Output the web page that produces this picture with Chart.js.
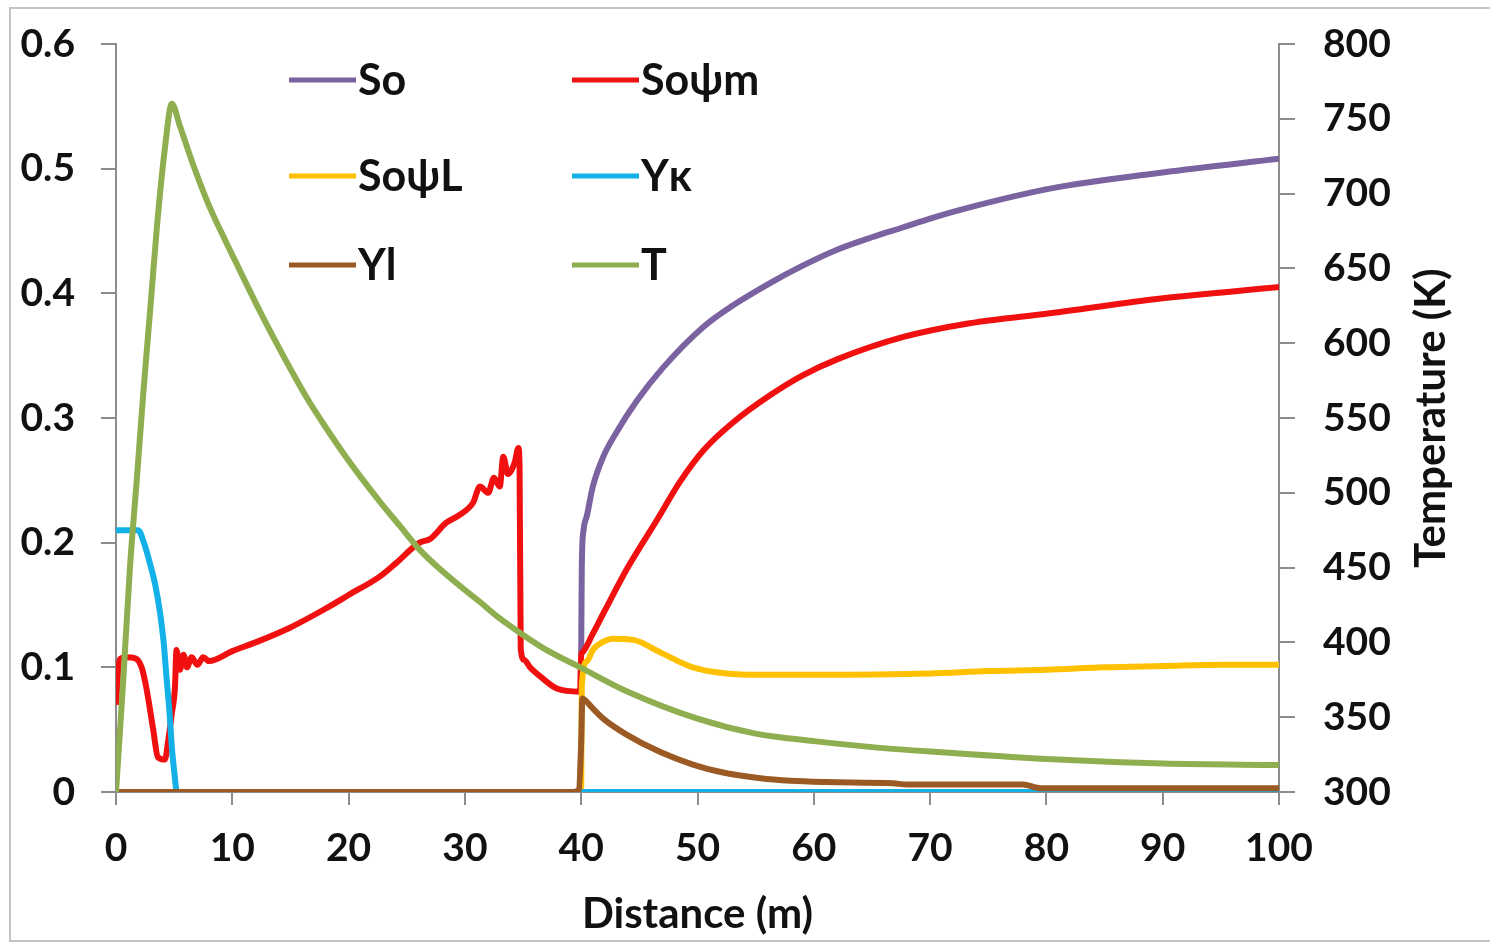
<!DOCTYPE html>
<html>
<head>
<meta charset="utf-8">
<script src="https://cdn.jsdelivr.net/npm/chart.js@4.4.1/dist/chart.umd.min.js"></script>
<style>
  body { margin: 0; background: #fff; }
  canvas { display: block; }
</style>
</head>
<body>
<canvas id="profileChart" width="1490" height="944"></canvas>
<script>
// series labels (legend order: column by column as in the figure)
const seriesNames = ["So", "So\u03c8m", "So\u03c8L", "Y\u03ba", "Yl", "T"];

// So
const soX = [40, 40.05, 40.2, 40.5, 41, 41.9, 43, 44.8, 47, 50.5, 53, 56.2, 59, 62, 65, 67.7, 70, 73.4, 80.3, 90, 100];
const soY = [0.11, 0.18, 0.21, 0.222, 0.245, 0.269, 0.288, 0.314, 0.34, 0.373, 0.39, 0.408, 0.422, 0.435, 0.445, 0.453, 0.46, 0.469, 0.484, 0.497, 0.508];

// Soψm
const somX = [0, 0.3, 0.8, 1.7, 2.2, 2.6, 3.2, 3.6, 4.2, 4.5, 4.8, 5.07, 5.2, 5.5, 5.8, 6.1, 6.5, 7, 7.5, 8,
  10, 12, 15, 18, 20, 22.7, 24, 26.1, 27, 28.4, 29.5, 30.7, 31.3, 32, 32.5, 33, 33.3, 33.7, 34.0, 34.3, 34.6,
  34.7, 34.8, 35.1, 35.6, 36.5, 37.9, 39.9, 40.0, 40.1, 41, 42, 44, 46.5, 48.5, 50.5, 53, 56.2, 59, 62, 67.7, 73.4, 80.3, 90, 100];
const somY = [0.07, 0.106, 0.108, 0.107, 0.1, 0.084, 0.05, 0.028, 0.026, 0.042, 0.063, 0.084, 0.114, 0.098, 0.11, 0.1, 0.108, 0.102, 0.108, 0.105,
  0.113, 0.12, 0.132, 0.147, 0.158, 0.173, 0.183, 0.2, 0.203, 0.216, 0.222, 0.232, 0.245, 0.24, 0.252, 0.245, 0.269, 0.255, 0.258, 0.265, 0.276,
  0.262, 0.115, 0.106, 0.1, 0.0925, 0.083, 0.0805, 0.11, 0.112, 0.127, 0.145, 0.18, 0.218, 0.249, 0.274, 0.296, 0.318, 0.334, 0.347, 0.365, 0.376, 0.384, 0.396, 0.405];

// SoψL
const solX = [0, 40, 40.05, 40.5, 41, 42, 42.7, 44.5, 46.8, 49.6, 52.5, 55.4, 60, 70, 75, 80, 85, 90, 95, 100];
const solY = [0, 0, 0.085, 0.105, 0.114, 0.121, 0.123, 0.122, 0.112, 0.1, 0.095, 0.094, 0.094, 0.095, 0.097, 0.098, 0.1, 0.101, 0.102, 0.102];

// Yκ
const ykX = [0, 1.9, 2.4, 2.9, 3.4, 3.8, 4.1, 4.36, 4.6, 4.8, 5.0, 5.25, 100];
const ykY = [0.21, 0.21, 0.2, 0.184, 0.165, 0.143, 0.12, 0.09, 0.064, 0.036, 0.017, 0, 0];

// Yl
const ylX = [0, 39.3, 39.8, 40.0, 40.1, 40.3, 41, 42, 43.9, 46.8, 49.6, 52, 55.4, 58, 61.1, 66.8, 68, 78, 79.5, 100];
const ylY = [0, 0, 0.002, 0.04, 0.075, 0.074, 0.067, 0.058, 0.046, 0.032, 0.022, 0.016, 0.011, 0.009, 0.008, 0.007, 0.006, 0.006, 0.003, 0.003];

// T (K), right axis
const tX = [0, 0.6, 1.2, 1.8, 2.35, 3.0, 3.5, 4.2, 4.8, 5.5, 6.65, 8, 9.5, 11, 12.4, 13.8, 15.2, 16.6, 18.1, 19.5, 21, 22.7,
  24.5, 26.1, 28, 30, 31.3, 33, 35, 37, 40, 44, 50, 55, 60, 65, 70, 80, 90, 100];
const tY = [300, 372, 450, 510, 567, 628, 676, 730, 760, 745, 719, 692, 667, 643, 621, 600, 580, 561, 543, 527, 511, 494,
  477, 462, 448, 435, 427, 416, 405, 395, 383, 367, 349, 339, 334, 330, 327, 322, 319, 318];

const colors = ["#7b62a0", "#f01010", "#ffc000", "#14b0e8", "#9b5a23", "#8fae4f"];

function pts(xs, ys) {
  return xs.map((x, i) => ({ x: x, y: ys[i] }));
}

const seriesData = [pts(soX, soY), pts(somX, somY), pts(solX, solY), pts(ykX, ykY), pts(ylX, ylY), pts(tX, tY)];

const fontFamily = "Lato, 'Open Sans', 'DejaVu Sans', sans-serif";
const axisColor = "#8c8c8c";

// legend, axis titles and frame drawn on top of the chart
const overlay = {
  id: "overlay",
  afterDraw(chart) {
    const ctx = chart.ctx;
    const area = chart.chartArea;
    ctx.save();

    // outer frame
    ctx.strokeStyle = "#c4c4c4";
    ctx.lineWidth = 2;
    ctx.strokeRect(10, 8, 1500, 933);

    // legend: 2 columns x 3 rows
    const colX = [289, 572];
    const rowY = [80, 176, 265];
    ctx.font = "bold 43px " + fontFamily;
    ctx.textBaseline = "middle";
    ctx.textAlign = "left";
    chart.data.datasets.forEach((ds, i) => {
      const x = colX[i % 2];
      const y = rowY[Math.floor(i / 2)];
      ctx.strokeStyle = ds.borderColor;
      ctx.lineWidth = 5;
      ctx.beginPath();
      ctx.moveTo(x, y);
      ctx.lineTo(x + 67, y);
      ctx.stroke();
      ctx.fillStyle = "#111";
      ctx.fillText(ds.label, x + 69, y + 1);
    });

    // axis titles
    ctx.font = "bold 42px " + fontFamily;
    ctx.fillStyle = "#111";
    ctx.textAlign = "center";
    ctx.fillText("Distance (m)", (area.left + area.right) / 2, 914);
    ctx.translate(1431, 418);
    ctx.rotate(-Math.PI / 2);
    ctx.fillText("Temperature (K)", 0, 0);
    ctx.restore();
  }
};

const tickFont = { family: fontFamily, size: 39, weight: "bold" };
const sideTickFont = { family: fontFamily, size: 39, weight: "bold", lineHeight: 0.6 };

new Chart(document.getElementById("profileChart").getContext("2d"), {
  type: "line",
  data: {
    datasets: seriesData.map((d, i) => ({
      label: seriesNames[i],
      data: d,
      borderColor: colors[i],
      backgroundColor: colors[i],
      borderWidth: 6,
      pointRadius: 0,
      cubicInterpolationMode: "monotone",
      yAxisID: i === 5 ? "y2" : "y",
      order: 6 - i
    }))
  },
  options: {
    responsive: false,
    animation: false,
    layout: { padding: { top: 44, left: 0, right: 0, bottom: 0 } },
    plugins: { legend: { display: false }, tooltip: { enabled: false } },
    scales: {
      x: {
        type: "linear",
        min: 0,
        max: 100,
        ticks: { stepSize: 10, font: tickFont, color: "#111", padding: 20, maxRotation: 0 },
        grid: { drawOnChartArea: false, drawTicks: true, tickLength: 13, color: axisColor, lineWidth: 2 },
        border: { color: axisColor, width: 2 },
        afterFit: s => { s.height = 152; }
      },
      y: {
        position: "left",
        min: 0,
        max: 0.6,
        ticks: { stepSize: 0.1, font: sideTickFont, color: "#111", padding: 26 },
        grid: { drawOnChartArea: false, drawTicks: true, tickLength: 15, color: axisColor, lineWidth: 2 },
        border: { color: axisColor, width: 2 },
        afterFit: s => { s.width = 116; }
      },
      y2: {
        position: "right",
        min: 300,
        max: 800,
        ticks: { stepSize: 50, font: sideTickFont, color: "#111", padding: 28 },
        grid: { drawOnChartArea: false, drawTicks: true, tickLength: 16, color: axisColor, lineWidth: 2 },
        border: { color: axisColor, width: 2 },
        afterFit: s => { s.width = 211; }
      }
    }
  },
  plugins: [overlay]
});
</script>
</body>
</html>
